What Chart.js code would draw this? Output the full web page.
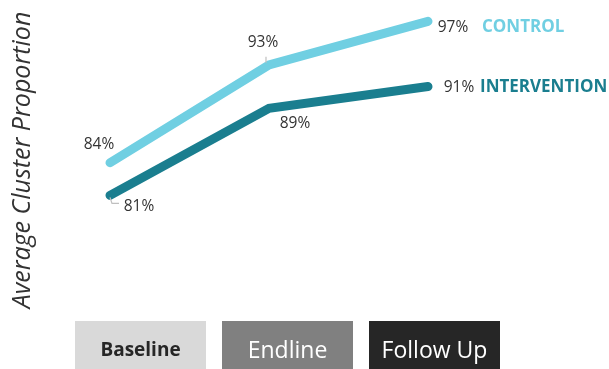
<!DOCTYPE html>
<html>
<head>
<meta charset="utf-8">
<script src="https://cdn.jsdelivr.net/npm/chart.js@4/dist/chart.umd.min.js"></script>
<style>
  html, body { margin: 0; padding: 0; background: #fff; }
  #wrap { width: 609px; height: 369px; position: relative; }
</style>
</head>
<body>
<div id="wrap"><canvas id="canvas"></canvas></div>
<script>
const periods = ["Baseline", "Endline", "Follow Up"]
const control = [84, 93, 97]
const intervention = [81, 89, 91]
const seriesNames = ["CONTROL", "INTERVENTION"]

const lightBlue = "#70cfe2"
const darkTeal = "#1a7e8f"

// label offsets from each point (text centre), plus optional leader line
const labelOffsets = [
    [{dx: -11, dy: -18}, {dx: -6, dy: -22, lead: [[-3, -2], [-3, -8]]}, {dx: 25, dy: 6}],
    [{dx: 29, dy: 11, lead: [[0, 2], [2, 8], [9, 8]]}, {dx: 26, dy: 15}, {dx: 31, dy: 1}]
]
const nameOffsets = [54, 52]

const boxStyles = [
    {bg: "#d9d9d9", color: "#262626", font: "bold 19px 'Open Sans'"},
    {bg: "#808080", color: "#ffffff", font: "23px 'Open Sans'"},
    {bg: "#262626", color: "#ffffff", font: "23px 'Open Sans'"}
]

const pointLabels = {
    id: "pointLabels",
    afterDatasetsDraw(chart) {
        const ctx = chart.ctx
        ctx.save()
        chart.data.datasets.forEach((ds, i) => {
            const meta = chart.getDatasetMeta(i)
            meta.data.forEach((pt, j) => {
                const off = labelOffsets[i][j]
                if (off.lead) {
                    ctx.strokeStyle = "#bfbfbf"
                    ctx.lineWidth = 1.2
                    ctx.beginPath()
                    off.lead.forEach((p, k) => {
                        if (k == 0) ctx.moveTo(pt.x + p[0], pt.y + p[1])
                        else ctx.lineTo(pt.x + p[0], pt.y + p[1])
                    })
                    ctx.stroke()
                }
                ctx.fillStyle = "#333333"
                ctx.font = "15.5px 'Open Sans'"
                ctx.textAlign = "center"
                ctx.textBaseline = "middle"
                ctx.fillText(ds.data[j] + "%", pt.x + off.dx, pt.y + off.dy)
            })
            const last = meta.data[meta.data.length - 1]
            ctx.fillStyle = ds.borderColor
            ctx.font = "bold 17px 'Open Sans'"
            ctx.textAlign = "left"
            ctx.fillText(seriesNames[i], last.x + nameOffsets[i], last.y + labelOffsets[i][2].dy)
        })
        ctx.restore()
    }
}

const periodBoxes = {
    id: "periodBoxes",
    afterDraw(chart) {
        const ctx = chart.ctx
        const area = chart.chartArea
        const w = 131, h = 48, gap = 16
        const top = chart.height - h
        let x = area.left - 35
        ctx.save()
        periods.forEach((p, i) => {
            const s = boxStyles[i]
            ctx.fillStyle = s.bg
            ctx.fillRect(x, top, w, h)
            ctx.fillStyle = s.color
            ctx.font = s.font
            ctx.textAlign = "center"
            ctx.textBaseline = "middle"
            ctx.fillText(p, x + w / 2, top + h / 2 + 6)
            x += w + gap
        })
        ctx.restore()
    }
}

const config = {
    type: "line",
    data: {
        labels: periods,
        datasets: [
            {
                label: seriesNames[0],
                data: control,
                borderColor: lightBlue,
                borderWidth: 9,
                borderCapStyle: "round",
                pointRadius: 0,
                clip: false
            },
            {
                label: seriesNames[1],
                data: intervention,
                borderColor: darkTeal,
                borderWidth: 9,
                borderCapStyle: "round",
                pointRadius: 0,
                clip: false
            }
        ]
    },
    options: {
        responsive: true,
        maintainAspectRatio: false,
        animation: false,
        layout: {padding: {left: 8, right: 181, top: 5, bottom: 54}},
        plugins: {
            legend: {display: false},
            tooltip: {enabled: false}
        },
        scales: {
            x: {display: false},
            y: {
                min: 70,
                max: 98.5,
                grid: {display: false, drawTicks: false},
                border: {display: false},
                ticks: {display: false},
                title: {
                    display: true,
                    text: "Average Cluster Proportion",
                    color: "#333333",
                    font: {family: "'Open Sans'", size: 25, style: "italic"},
                    padding: 0
                },
                afterFit: axis => { axis.width = 102 }
            }
        }
    },
    plugins: [pointLabels, periodBoxes]
}

let chart = new Chart(document.getElementById("canvas").getContext("2d"), config)
</script>
</body>
</html>
